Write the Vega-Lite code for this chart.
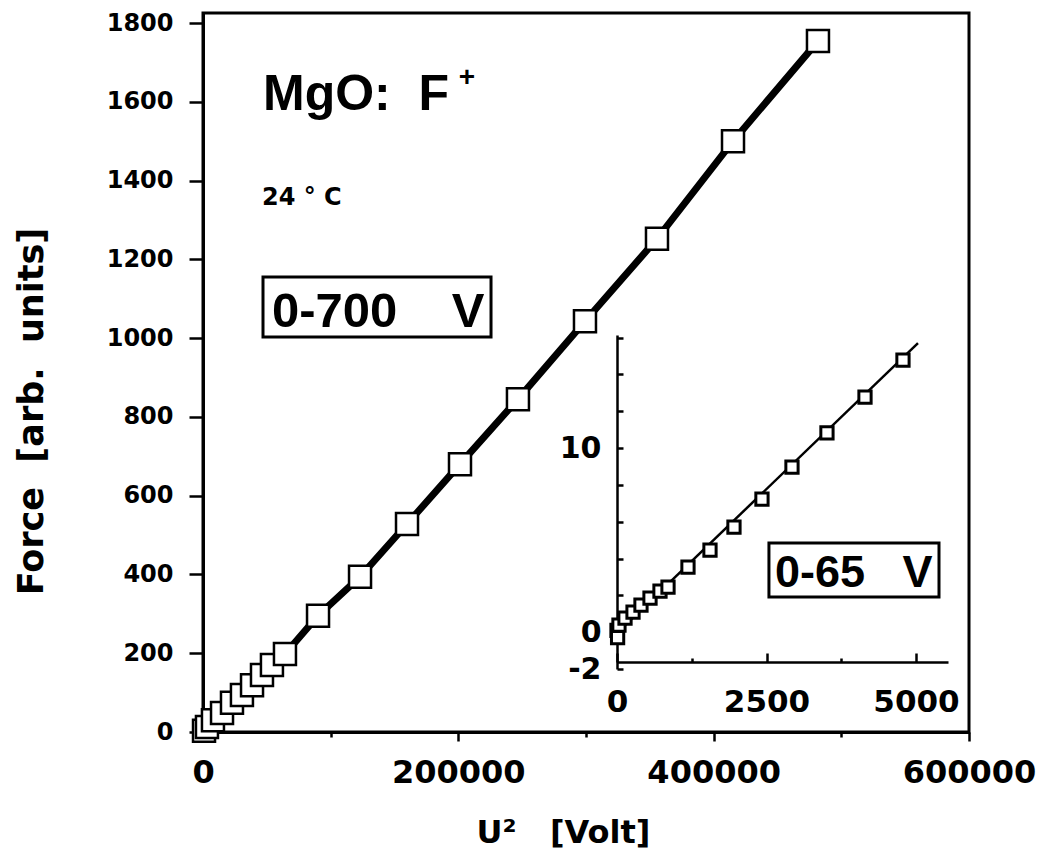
{
  "$schema": "https://vega.github.io/schema/vega-lite/v6.json",
  "width": 766,
  "height": 719,
  "autosize": {"type": "none"},
  "padding": {"left": 203, "top": 13, "right": 71, "bottom": 121},
  "background": "white",
  "config": {
    "view": {"stroke": "black", "strokeWidth": 3},
    "axis": {
      "grid": false, "domainColor": "black", "domainWidth": 3,
      "tickColor": "black", "tickWidth": 2.5,
      "labelColor": "black", "labelFont": "DejaVu Sans", "labelFontWeight": "bold",
      "titleColor": "black", "titleFont": "DejaVu Sans", "titleFontWeight": "bold",
      "labelFlush": false, "labelOverlap": false, "labelBound": false
    }
  },
  "datasets": {
    "main": [
      {"u2": 800, "force": 3}, {"u2": 3100, "force": 13}, {"u2": 7800, "force": 30},
      {"u2": 14900, "force": 48}, {"u2": 22700, "force": 74}, {"u2": 30500, "force": 94},
      {"u2": 38400, "force": 119}, {"u2": 46200, "force": 145}, {"u2": 54000, "force": 170},
      {"u2": 64200, "force": 198}, {"u2": 90100, "force": 295}, {"u2": 123000, "force": 394},
      {"u2": 159800, "force": 528}, {"u2": 201300, "force": 680}, {"u2": 246700, "force": 845},
      {"u2": 299200, "force": 1043}, {"u2": 355600, "force": 1252}, {"u2": 415150, "force": 1500},
      {"u2": 481700, "force": 1754}
    ],
    "insetPts": [
      {"u2": 0, "force": 0.1}, {"u2": 10, "force": -0.3}, {"u2": 33, "force": 0.38},
      {"u2": 134, "force": 0.76}, {"u2": 268, "force": 1.09}, {"u2": 401, "force": 1.47},
      {"u2": 552, "force": 1.85}, {"u2": 719, "force": 2.23}, {"u2": 853, "force": 2.45},
      {"u2": 1187, "force": 3.53}, {"u2": 1555, "force": 4.46}, {"u2": 1956, "force": 5.71},
      {"u2": 2424, "force": 7.23}, {"u2": 2926, "force": 8.97}, {"u2": 3511, "force": 10.82},
      {"u2": 4147, "force": 12.77}, {"u2": 4782, "force": 14.78}
    ],
    "insetFit": [{"u2": 0, "force": -0.05}, {"u2": 5033, "force": 15.7}]
  },
  "layer": [
    {
      "layer": [
        {
          "data": {"name": "main"},
          "mark": {"type": "line", "color": "black", "strokeWidth": 7},
          "encoding": {
            "x": {
              "field": "u2", "type": "quantitative",
              "scale": {"domain": [0, 600000], "nice": false},
              "axis": {
                "values": [0, 100000, 200000, 300000, 400000, 500000, 600000],
                "format": "d",
                "labelExpr": "datum.value % 200000 === 0 ? datum.label : ''",
                "tickSize": {"condition": {"test": "datum.value % 200000 === 0", "value": 9}, "value": 5},
                "labelFontSize": 32, "labelPadding": 16,
                "title": "U²\u00a0\u00a0\u00a0[Volt]", "titleFontSize": 32,
                "titleX": 360, "titleY": 110, "titleAlign": "center", "titleBaseline": "alphabetic"
              }
            },
            "y": {
              "field": "force", "type": "quantitative",
              "scale": {"domain": [0, 1825.4], "nice": false},
              "axis": {
                "values": [0, 100, 200, 300, 400, 500, 600, 700, 800, 900, 1000, 1100, 1200, 1300, 1400, 1500, 1600, 1700, 1800],
                "format": "d",
                "labelExpr": "datum.value % 200 === 0 ? datum.label : ''",
                "tickSize": {"condition": {"test": "datum.value % 200 === 0", "value": 14}, "value": 7},
                "labelFontSize": 24, "labelPadding": 16,
                "title": "Force\u00a0\u00a0[arb.\u00a0\u00a0units]", "titleFontSize": 35, "titleAngle": 270,
                "titleX": -172, "titleY": 398, "titleAlign": "center", "titleBaseline": "middle"
              }
            }
          }
        },
        {
          "data": {"name": "main"},
          "mark": {"type": "point", "shape": "square", "size": 484, "filled": true, "fill": "white", "stroke": "black", "strokeWidth": 2.5, "opacity": 1},
          "encoding": {
            "x": {"field": "u2", "type": "quantitative"},
            "y": {"field": "force", "type": "quantitative"}
          }
        },
        {
          "data": {"values": [{}]},
          "mark": {"type": "text", "text": "MgO:\u00a0\u00a0F", "font": "Liberation Sans", "fontSize": 50, "fontWeight": "bold", "align": "left", "baseline": "alphabetic", "color": "black"},
          "encoding": {"x": {"datum": 47000}, "y": {"datum": 1579}}
        },
        {
          "data": {"values": [{}]},
          "mark": {"type": "text", "text": "+", "font": "Liberation Sans", "fontSize": 28, "fontWeight": "bold", "align": "center", "baseline": "middle", "color": "black"},
          "encoding": {"x": {"datum": 206800}, "y": {"datum": 1660}}
        },
        {
          "data": {"values": [{}]},
          "mark": {"type": "text", "text": "24 ° C", "font": "DejaVu Sans", "fontSize": 24, "fontWeight": "bold", "align": "left", "baseline": "alphabetic", "color": "black"},
          "encoding": {"x": {"datum": 46200}, "y": {"datum": 1338}}
        },
        {
          "data": {"values": [{}]},
          "mark": {"type": "rect", "fill": "transparent", "stroke": "black", "strokeWidth": 3},
          "encoding": {"x": {"datum": 47000}, "x2": {"datum": 225600}, "y": {"datum": 1155}, "y2": {"datum": 1003}}
        },
        {
          "data": {"values": [{}]},
          "mark": {"type": "text", "text": "0-700\u00a0\u00a0\u00a0\u00a0V", "font": "Liberation Sans", "fontSize": 49, "fontWeight": "bold", "align": "left", "baseline": "alphabetic", "color": "black"},
          "encoding": {"x": {"datum": 54050}, "y": {"datum": 1028}}
        },
        {
          "data": {"values": [{}]},
          "mark": {"type": "rect", "fill": "transparent", "stroke": "black", "strokeWidth": 3},
          "encoding": {"x": {"datum": 443300}, "x2": {"datum": 576500}, "y": {"datum": 480}, "y2": {"datum": 343}}
        },
        {
          "data": {"values": [{}]},
          "mark": {"type": "text", "text": "0-65\u00a0\u00a0\u00a0V", "font": "Liberation Sans", "fontSize": 45, "fontWeight": "bold", "align": "left", "baseline": "alphabetic", "color": "black"},
          "encoding": {"x": {"datum": 448000}, "y": {"datum": 368}}
        }
      ]
    },
    {
      "layer": [
        {
          "data": {"name": "insetFit"},
          "mark": {"type": "line", "color": "black", "strokeWidth": 2.5},
          "encoding": {
            "x": {
              "field": "u2", "type": "quantitative",
              "scale": {"domain": [0, 5535], "range": [414, 745], "nice": false, "zero": false},
              "axis": {
                "orient": "bottom", "offset": -70,
                "values": [0, 1250, 2500, 3750, 5000], "format": "d",
                "labelExpr": "datum.value % 2500 === 0 ? datum.label : ''",
                "tickSize": {"condition": {"test": "datum.value % 2500 === 0", "value": -9}, "value": -4},
                "domainWidth": 2.5, "labelFontSize": 31, "labelPadding": 34, "title": null
              }
            },
            "y": {
              "field": "force", "type": "quantitative",
              "scale": {"domain": [-2, 16.14], "range": [656, 322], "nice": false, "zero": false},
              "axis": {
                "orient": "left", "offset": -414,
                "values": [-2, 0, 2, 4, 6, 8, 10, 12, 14, 16],
                "labelExpr": "datum.value === -2 ? '-2' : (datum.value === 0 || datum.value === 10 ? datum.label : '')",
                "tickSize": -6, "domainWidth": 2.5, "labelFontSize": 30, "labelPadding": 22, "title": null
              }
            }
          }
        },
        {
          "data": {"name": "insetPts"},
          "mark": {"type": "point", "shape": "square", "size": 150, "filled": true, "fill": "white", "stroke": "black", "strokeWidth": 3, "opacity": 1},
          "encoding": {
            "x": {"field": "u2", "type": "quantitative"},
            "y": {"field": "force", "type": "quantitative"}
          }
        }
      ]
    }
  ],
  "resolve": {
    "scale": {"x": "independent", "y": "independent"},
    "axis": {"x": "independent", "y": "independent"}
  }
}
